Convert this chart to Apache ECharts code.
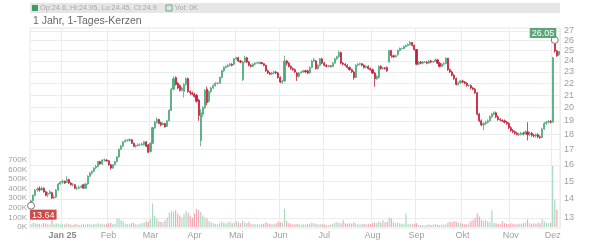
<!DOCTYPE html>
<html><head><meta charset="utf-8">
<script src="https://cdn.jsdelivr.net/npm/echarts@6/dist/echarts.min.js"></script>
<style>html,body{margin:0;padding:0;background:#fff}#c{width:600px;height:240px}</style>
</head><body><div id="c"></div><script>
// Trading calendar (Xetra) – categories
const firstDay = '2024-12-05';
const lastDay = '2025-12-04';
const holidays = ['2024-12-24','2024-12-25','2024-12-26','2024-12-31','2025-01-01','2025-04-18','2025-04-21','2025-05-01'];
const monthNames = ['Jan','Feb','Mar','Apr','Mai','Jun','Jul','Aug','Sep','Okt','Nov','Dez'];
const priceTicks = [13,14,15,16,17,18,19,20,21,22,23,24,25,26,27];
const headerText = 'Op:24.6, Hi:24.95, Lo:24.45, Cl:24.9';
const headerVol = 'Vol: 0K';

const opens = [13.75,13.9,14.2,14.5,14.6,14.5,14.6,14.4,14.25,14.3,14.35,14.05,14.1,14.5,14.85,
14.95,15.0,14.95,15.1,14.9,14.8,14.8,14.6,14.6,14.65,14.8,14.6,14.85,15.3,15.5,15.6,15.8,15.9,16.2,16.05,16.3,16.3,
16.25,16.0,15.8,16.0,16.2,16.5,17.0,17.2,17.5,17.6,17.6,17.65,17.4,17.2,17.25,17.3,17.3,17.3,17.5,17.3,
16.85,17.4,18.5,18.9,19.1,18.85,18.7,18.8,18.6,19.0,19.8,21.5,22.5,22.0,21.8,21.4,21.3,21.9,22.4,21.3,21.2,
21.1,21.0,20.6,17.6,19.5,20.0,21.5,20.5,21.3,21.6,21.8,22.0,22.0,22.5,23.1,23.4,23.5,23.6,23.7,23.7,
24.2,24.3,24.0,22.3,23.9,24.3,23.9,23.6,23.5,23.7,23.8,23.8,23.85,23.75,23.6,23.1,22.9,22.8,22.9,23.0,22.9,22.5,
22.1,22.2,24.0,23.8,23.5,23.3,23.2,22.9,22.6,22.9,23.0,23.1,23.1,22.9,23.4,24.0,24.0,23.3,23.6,24.2,23.8,
23.6,23.5,23.55,23.5,23.8,24.2,24.4,24.8,23.8,23.7,23.6,23.4,23.2,23.0,22.5,23.6,23.7,23.75,23.6,23.4,23.5,23.3,23.2,
22.9,22.4,22.5,23.5,23.3,23.35,23.4,23.9,25.0,24.5,24.4,24.6,25.0,25.2,25.2,25.4,25.5,25.6,25.8,25.5,25.1,
23.7,23.9,23.8,23.9,23.9,23.8,24.0,23.9,23.95,24.1,23.8,23.5,23.7,23.75,24.25,23.2,23.0,22.7,22.4,21.9,22.05,22.2,
22.1,22.0,21.8,21.8,21.6,21.5,21.2,19.5,19.0,18.7,18.8,18.9,19.0,19.3,19.5,19.6,19.3,19.1,19.05,19.0,18.9,18.8,18.5,
18.3,18.2,18.1,18.0,18.0,18.1,18.05,18.2,18.0,18.1,17.95,17.9,18.0,17.85,17.8,18.4,18.8,18.9,18.95,
18.9,25.7,24.95,24.6];
const closes = [13.9,14.2,14.5,14.55,14.5,14.6,14.4,14.2,14.3,14.4,14.05,14.1,14.5,14.85,14.95,
15.0,14.9,15.1,14.9,14.8,14.8,14.6,14.6,14.65,14.7,14.6,14.85,15.3,15.5,15.6,15.8,15.9,16.2,16.05,16.3,16.3,16.25,
16.0,15.8,16.0,16.2,16.5,17.0,17.2,17.5,17.6,17.6,17.65,17.4,17.2,17.25,17.3,17.3,17.35,17.5,17.2,16.8,
17.4,18.5,18.9,19.1,18.8,18.7,18.8,18.55,19.0,19.8,21.5,22.4,21.9,21.6,21.4,21.6,21.9,22.4,21.3,21.2,21.1,
20.9,20.5,19.4,19.6,20.0,21.4,20.4,21.3,21.6,21.8,22.0,22.0,22.5,23.1,23.4,23.5,23.6,23.7,23.6,24.2,
24.3,24.0,23.9,23.9,24.3,23.9,23.6,23.5,23.7,23.8,23.85,23.85,23.75,23.6,23.1,22.9,22.8,22.9,23.0,22.9,22.5,22.1,
22.2,24.0,23.8,23.5,23.3,23.2,23.0,22.6,22.9,23.0,23.1,23.0,22.9,23.4,24.0,24.1,23.3,23.6,24.2,23.8,23.6,
23.5,23.55,23.5,23.8,24.2,24.4,24.8,23.8,23.7,23.6,23.4,23.2,23.0,22.5,23.6,23.7,23.75,23.6,23.4,23.5,23.3,23.2,22.9,
22.4,22.6,23.5,23.3,23.35,23.3,23.1,25.0,24.5,24.4,24.5,25.0,25.2,25.2,25.4,25.5,25.6,25.8,25.5,25.1,23.7,
23.9,23.8,23.9,23.9,23.8,24.0,23.9,23.95,24.1,23.8,23.5,23.7,23.75,24.25,23.2,23.0,22.7,22.4,21.9,22.05,22.2,22.1,
22.0,21.8,21.8,21.6,21.5,21.2,19.5,19.0,18.7,18.8,18.9,19.0,19.3,19.5,19.6,19.3,19.1,19.05,19.0,18.9,18.8,18.5,18.3,
18.2,18.1,18.0,18.05,18.1,18.05,18.2,18.0,18.1,17.95,17.9,18.0,17.85,17.8,18.4,18.8,18.9,18.95,18.9,
24.3,24.95,24.5,24.9];
const lows = [13.64,13.85,14.15,14.4,14.4,14.45,14.35,14.15,14.1,14.25,14.0,14.0,14.05,14.45,14.8,
14.85,14.85,14.9,14.85,14.75,14.7,14.55,14.5,14.55,14.6,14.55,14.55,14.8,15.25,15.4,15.55,15.75,15.85,16.0,16.0,16.2,16.2,
15.95,15.7,15.75,15.95,16.15,16.45,16.95,17.15,17.45,17.5,17.5,17.35,17.15,17.1,17.2,17.2,17.25,17.25,17.15,16.75,
16.8,17.35,18.4,18.8,18.75,18.6,18.65,18.5,18.55,18.95,19.75,21.4,21.8,21.5,21.3,21.3,20.8,21.8,21.2,21.0,21.0,
20.8,20.4,19.0,17.2,19.3,19.9,20.2,20.4,21.2,21.5,21.7,21.9,21.95,22.4,23.0,23.3,23.4,23.5,23.5,23.6,
24.1,23.9,23.8,22.2,23.8,23.8,23.5,23.4,23.45,23.6,23.7,23.7,23.7,23.5,23.0,22.8,22.7,22.7,22.8,22.8,22.4,22.0,
21.95,22.1,23.6,23.4,23.2,23.1,22.9,22.2,22.5,22.85,22.9,22.9,22.8,22.85,23.35,23.9,23.2,23.2,23.5,23.7,23.5,
23.4,23.4,23.4,23.45,23.75,24.1,24.3,23.7,23.6,23.5,23.3,23.1,22.9,22.3,22.45,23.5,23.6,23.5,23.3,23.3,23.2,23.1,22.8,
21.7,22.3,22.4,23.2,23.2,23.2,23.0,23.85,24.3,24.3,24.35,24.5,24.9,25.1,25.1,25.3,25.4,25.5,25.4,25.0,23.6,
23.6,23.7,23.7,23.8,23.7,23.75,23.8,23.8,23.9,23.7,23.4,23.45,23.6,23.7,23.1,22.9,22.6,22.3,21.8,21.8,21.95,22.0,
21.9,21.7,21.7,21.5,21.4,21.1,19.4,18.9,18.6,18.3,18.7,18.8,18.95,19.2,19.4,19.2,19.0,18.95,18.9,18.8,18.7,18.4,18.2,
18.1,18.0,17.95,17.9,17.95,17.95,18.0,17.6,17.9,17.85,17.8,17.8,17.75,17.7,17.75,18.35,18.7,18.8,18.8,
18.85,24.8,24.4,24.45];
const highs = [13.95,14.25,14.55,14.65,14.7,14.7,14.65,14.45,14.4,14.5,14.4,14.2,14.55,14.9,15.0,
15.1,15.05,15.3,15.15,14.95,14.9,14.85,14.7,14.75,14.8,14.85,14.9,15.35,15.55,15.65,15.85,16.0,16.25,16.25,16.35,16.4,16.35,
16.3,16.05,16.05,16.25,16.55,17.05,17.3,17.55,17.7,17.7,17.75,17.7,17.45,17.3,17.4,17.4,17.45,17.55,17.55,17.35,
17.45,18.55,19.0,19.25,19.15,18.95,18.9,18.85,19.05,19.9,21.6,22.6,22.6,22.1,21.9,21.7,22.0,22.5,22.5,21.4,21.3,
21.2,21.1,20.7,19.9,20.1,21.5,21.7,21.4,21.7,21.9,22.1,22.1,22.6,23.2,23.5,23.6,23.7,23.8,23.8,24.3,
24.4,24.4,24.1,24.0,24.5,24.4,24.0,23.7,23.8,23.9,23.9,23.95,23.9,23.8,23.65,23.2,23.0,23.0,23.1,23.1,23.0,22.6,
22.3,24.5,24.1,23.9,23.6,23.4,23.3,23.0,23.0,23.1,23.2,23.2,23.2,23.5,24.1,24.3,24.1,23.7,24.3,24.3,23.9,
23.7,23.6,23.6,23.9,24.3,24.5,25.0,24.9,23.9,23.8,23.7,23.5,23.3,23.1,23.7,23.8,23.85,23.8,23.7,23.6,23.6,23.4,23.3,
23.0,22.7,23.6,23.6,23.45,23.45,23.5,25.1,25.05,24.6,24.6,25.1,25.3,25.3,25.5,25.6,25.7,25.95,25.85,25.6,25.15,
24.0,24.0,24.0,24.0,24.0,24.1,24.1,24.0,24.25,24.2,23.9,23.8,23.9,24.35,24.3,23.3,23.1,22.8,22.5,22.15,22.3,22.3,
22.2,22.1,21.9,21.9,21.7,21.6,21.25,19.6,19.1,18.9,19.0,19.1,19.4,19.6,19.7,19.7,19.4,19.2,19.1,19.1,19.0,18.9,18.6,
18.4,18.3,18.2,18.15,18.2,18.2,18.3,18.9,18.2,18.2,18.05,18.1,18.1,17.95,18.5,18.9,19.0,19.05,19.05,
24.4,26.05,25.05,24.95];
const volumes = [30,45,40,35,30,25,40,35,30,25,105,30,40,35,25,
30,25,40,30,25,20,35,25,20,25,30,25,35,30,25,35,30,40,30,35,25,30,
40,45,30,35,85,90,70,60,35,30,35,40,45,30,25,35,40,45,60,55,
80,245,120,90,60,55,50,70,100,150,170,160,175,140,120,100,130,165,150,120,100,
140,190,175,160,120,100,90,60,50,40,35,30,40,55,45,40,50,55,40,45,
60,50,40,65,45,40,55,35,30,30,30,25,30,35,50,40,35,30,35,40,55,50,
45,190,60,40,35,30,30,35,30,25,30,25,30,35,45,40,35,25,35,30,25,
20,20,25,35,45,50,45,40,70,40,35,40,35,50,40,30,25,30,35,30,35,30,40,
50,45,60,45,70,50,55,100,90,50,40,45,40,35,30,140,30,35,30,35,40,
25,20,20,15,20,30,20,25,30,25,20,25,25,30,45,55,50,60,55,45,40,35,
30,30,40,60,70,95,140,110,75,65,70,60,50,175,45,40,35,30,60,40,35,30,40,
35,30,30,35,35,40,45,80,40,35,40,35,45,40,80,60,45,40,45,
637,280,182,0];

// build trading-day categories
function fmt(d){const m=d.getUTCMonth()+1, dd=d.getUTCDate();return d.getUTCFullYear()+'-'+(m<10?'0':'')+m+'-'+(dd<10?'0':'')+dd;}
const dates = [];
for (let d = new Date(firstDay+'T00:00:00Z'); fmt(d) <= lastDay; d.setUTCDate(d.getUTCDate()+1)) {
  const wd = d.getUTCDay();
  const s = fmt(d);
  if (wd === 0 || wd === 6 || holidays.indexOf(s) >= 0) continue;
  dates.push(s);
}
const monthStart = dates.map((s,i)=> i>0 && s.slice(5,7) !== dates[i-1].slice(5,7));
function isMonthStart(i){ return !!monthStart[i]; }
function monthLabel(s){ const m = +s.slice(5,7)-1; return m===0 ? '{y|' + monthNames[m] + ' ' + s.slice(2,4) + '}' : monthNames[m]; }

const UP = '#4ea97a', DOWN = '#c4203a';
const UPV = '#a9d9bf', DOWNV = '#f2a9b4';
const candleData = dates.map((d,i)=>[opens[i], closes[i], lows[i], highs[i]]);
const volData = volumes.map((v,i)=>{
  const up = i === 0 ? closes[i] >= opens[i] : closes[i] >= closes[i-1];
  return {value:v, itemStyle:{color: up ? UPV : DOWNV}};
});
const FONT = 'Liberation Sans, Arial, sans-serif';

const chart = echarts.init(document.getElementById('c'), null, {renderer:'canvas'});
chart.setOption({
  animation:false,
  textStyle:{fontFamily:FONT},
  title:{text:'1 Jahr, 1-Tages-Kerzen', left:33, top:16, padding:0, textStyle:{fontSize:10.5, fontWeight:'normal', color:'#676767', fontFamily:FONT}},
  graphic:[
    {type:'rect', shape:{x:30,y:3,width:530,height:10}, style:{fill:'#e6e6e6'}, silent:true},
    {type:'rect', shape:{x:32,y:5,width:6,height:6}, style:{fill:'#3f9b68'}, silent:true},
    {type:'text', x:40, y:8, style:{text:headerText, fontSize:7.3, fill:'#a8a8a8', verticalAlign:'middle', fontFamily:FONT}, silent:true},
    {type:'rect', shape:{x:166,y:5,width:6,height:6}, style:{fill:'#d8e8df', stroke:'#6aa884', lineWidth:1}, silent:true},
    {type:'text', x:175, y:8, style:{text:headerVol, fontSize:7.3, fill:'#a8a8a8', verticalAlign:'middle', fontFamily:FONT}, silent:true}
  ],
  grid:[
    {left:30, right:40, top:28, bottom:12, show:true, borderColor:'#e6e6e6', borderWidth:1},
    {left:30, right:40, top:160, bottom:13}
  ],
  xAxis:[
    {type:'category', gridIndex:0, data:dates, boundaryGap:true,
     axisLine:{show:false}, axisTick:{show:false},
     splitLine:{show:true, interval:(i)=>isMonthStart(i), lineStyle:{color:'#ececec'}},
     axisLabel:{interval:(i)=>isMonthStart(i), formatter:monthLabel, color:'#a0a0a0', fontSize:9, margin:3,
       rich:{y:{color:'#8a8a8a', fontSize:9, fontWeight:'bold'}}}},
    {type:'category', gridIndex:1, data:dates, boundaryGap:true, show:false}
  ],
  yAxis:[
    {type:'log', gridIndex:0, position:'right', min:12.5, max:27.3, logBase:10,
     axisLine:{show:false}, axisTick:{show:false, customValues:priceTicks},
     splitLine:{show:true, lineStyle:{color:'#ececec'}},
     axisLabel:{customValues:priceTicks, color:'#a0a0a0', fontSize:9, margin:4}},
    {type:'value', gridIndex:1, position:'left', min:0, max:700, interval:100,
     axisLine:{show:false}, axisTick:{show:false}, splitLine:{show:false},
     axisLabel:{color:'#a0a0a0', fontSize:8, margin:3, formatter:(v)=>v+'K'}}
  ],
  series:[
    {type:'bar', xAxisIndex:1, yAxisIndex:1, data:volData, barWidth:1.2, z:1},
    {type:'candlestick', xAxisIndex:0, yAxisIndex:0, data:candleData, barWidth:1.6, z:3,
     itemStyle:{color:UP, color0:DOWN, borderColor:UP, borderColor0:DOWN, borderWidth:0.8},
     markPoint:{symbol:'circle', symbolSize:7, itemStyle:{color:'#fff', borderColor:'#777', borderWidth:1},
       data:[
         {type:'max', valueDim:'highest', label:{show:true, position:[-21,-8], fontSize:9, color:'#fff', backgroundColor:'#5aa57a', padding:[1,2,0,2], formatter:(p)=>p.value.toFixed(2)}},
         {type:'min', valueDim:'lowest', label:{show:true, position:[3,8], fontSize:9, color:'#fff', backgroundColor:'#d04848', padding:[1,2,0,2], formatter:(p)=>p.value.toFixed(2)}}
       ]}
    }
  ]
});
</script></body></html>
